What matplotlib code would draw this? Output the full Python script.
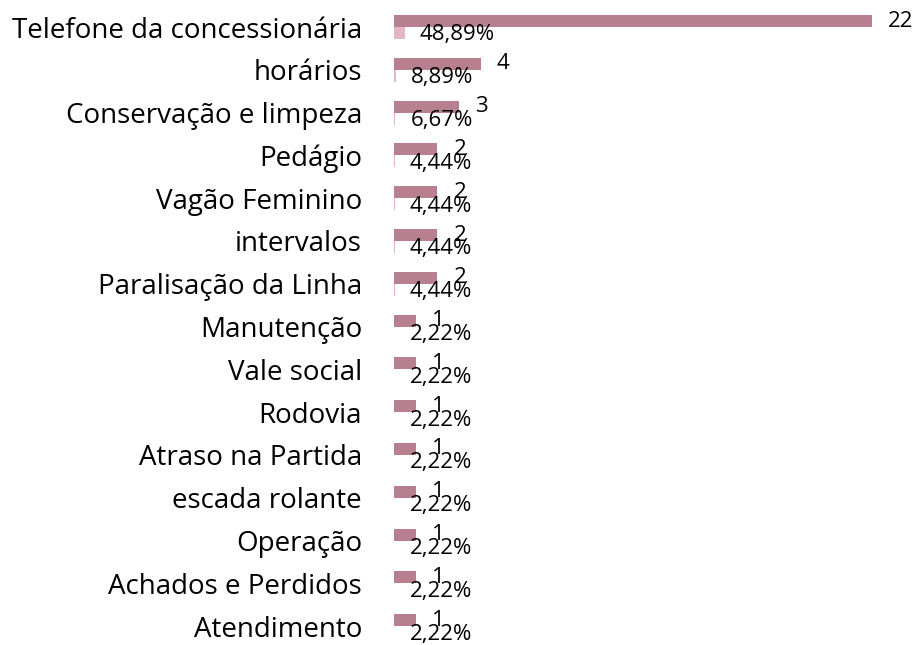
import matplotlib
matplotlib.use("Agg")
import matplotlib.pyplot as plt
from matplotlib.transforms import offset_copy

# ── Data ──────────────────────────────────────────────────────────────────────
categories = ["Telefone da concessionária", "horários", "Conservação e limpeza",
              "Pedágio", "Vagão Feminino", "intervalos", "Paralisação da Linha",
              "Manutenção", "Vale social", "Rodovia", "Atraso na Partida",
              "escada rolante", "Operação", "Achados e Perdidos", "Atendimento"]
counts = [22, 4, 3, 2, 2, 2, 2, 1, 1, 1, 1, 1, 1, 1, 1]
shares = [0.4889, 0.0889, 0.0667, 0.0444, 0.0444, 0.0444, 0.0444,
          0.0222, 0.0222, 0.0222, 0.0222, 0.0222, 0.0222, 0.0222, 0.0222]

COUNT_COLOR = "#b77f8f"
SHARE_COLOR = "#e2b6c4"
FONT = "Open Sans"

fig = plt.figure(figsize=(9.17, 6.45), dpi=100)
ax = fig.add_axes([394 / 917, 0, 489 / 917, 1])

pos = list(range(len(categories)))
bh = 0.28
ax.barh([p - bh / 2 for p in pos], counts, height=bh, color=COUNT_COLOR)
ax.barh([p + bh / 2 for p in pos], shares, height=bh, color=SHARE_COLOR)

ax.set_xlim(0, 22.5)
ax.set_ylim(14.44, -0.631)

# data labels (count above, share below, overlapping as in the source)
off_c = offset_copy(ax.transData, fig=fig, x=16, y=0, units="dots")
off_p = offset_copy(ax.transData, fig=fig, x=15, y=-2, units="dots")
for p, c, s in zip(pos, counts, shares):
    ax.text(c, p - bh / 2, str(c), transform=off_c, va="center", ha="left",
            fontsize=16, family=FONT, clip_on=False)
    ax.text(s, p + bh / 2, f"{s * 100:.2f}%".replace(".", ","), transform=off_p,
            va="center", ha="left", fontsize=16, family=FONT, clip_on=False)

ax.set_yticks(pos)
ax.set_yticklabels(categories, fontsize=20, family=FONT)
ax.tick_params(axis="y", length=0, pad=23)
ax.set_xticks([])
for sp in ax.spines.values():
    sp.set_visible(False)

fig.savefig("out.png", dpi=100)
